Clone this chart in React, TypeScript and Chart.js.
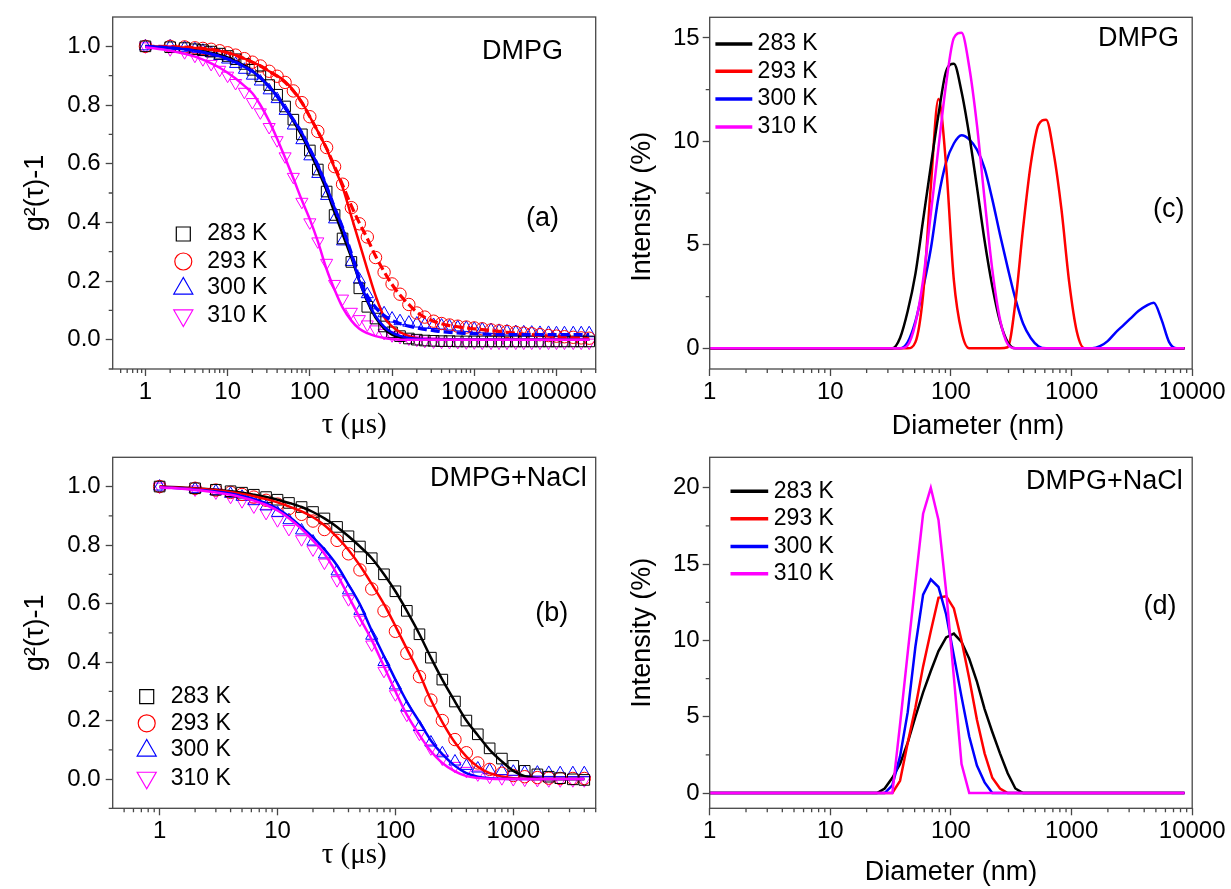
import React, { useEffect, useRef } from 'react';
import { Chart, registerables } from 'chart.js';

Chart.register(...registerables);

const SANS = "'Liberation Sans', Arial, Helvetica, sans-serif";
const SERIF = "'Liberation Serif', 'Times New Roman', serif";
const INK = '#000000';
const FRAME = '#474747';

const TEMPS = ['283 K', '293 K', '300 K', '310 K'];
const COLORS = ['#000000', '#ff0000', '#0000ff', '#ff00ff'];
const SYMBOLS = ['rect', 'circle', 'triangle', 'triangleDown'];

// ---------- panel (a): DMPG correlation functions ----------
const TAU_A = [1, 2, 3, 4, 5, 6.3, 8, 10, 12.5, 16, 20, 25, 32, 40, 50, 63, 80, 100, 125, 160, 200, 250, 320, 400, 500, 630, 800, 1000, 1250, 1600, 2000, 2500, 3200, 4000, 5000, 6300, 8000, 10000, 12500, 16000, 20000, 25000, 32000, 40000, 50000, 63000, 80000, 100000, 125000, 160000, 200000, 250000];
const A_283 = [1.0, 0.997, 0.994, 0.99, 0.987, 0.982, 0.975, 0.967, 0.956, 0.94,
  0.92, 0.898, 0.868, 0.835, 0.795, 0.75, 0.7, 0.645, 0.58, 0.505,
  0.425, 0.345, 0.265, 0.175, 0.112, 0.072, 0.045, 0.025, 0.012, 0.004,
  0.0, -0.003, -0.004, -0.005, -0.005, -0.006, -0.006, -0.006, -0.006, -0.006,
  -0.006, -0.006, -0.006, -0.006, -0.006, -0.006, -0.006, -0.006, -0.006, -0.006,
  -0.006, -0.006];
const A_293 = [1.0, 1.0, 0.998, 0.995, 0.993, 0.99, 0.985, 0.978, 0.97, 0.958,
  0.946, 0.933, 0.915, 0.898, 0.877, 0.848, 0.808, 0.76, 0.71, 0.655,
  0.59, 0.53, 0.45, 0.395, 0.35, 0.28, 0.23, 0.19, 0.155, 0.12,
  0.091, 0.077, 0.063, 0.055, 0.05, 0.046, 0.043, 0.04, 0.037, 0.033,
  0.03, 0.028, 0.025, 0.022, 0.02, 0.017, 0.014, 0.012, 0.01, 0.008,
  0.006, 0.005];
const A_300 = [1.0, 1.0, 0.995, 0.99, 0.985, 0.977, 0.967, 0.955, 0.94, 0.92,
  0.9, 0.88, 0.85, 0.82, 0.78, 0.73, 0.68, 0.625, 0.565, 0.49,
  0.41, 0.335, 0.265, 0.205, 0.155, 0.117, 0.09, 0.072, 0.063, 0.058,
  0.055, 0.052, 0.05, 0.048, 0.045, 0.042, 0.04, 0.037, 0.035, 0.033,
  0.03, 0.028, 0.026, 0.025, 0.024, 0.023, 0.023, 0.022, 0.022, 0.022,
  0.022, 0.022];
const A_310 = [1.0, 0.99, 0.98, 0.968, 0.956, 0.94, 0.92, 0.9, 0.875, 0.845,
  0.81, 0.775, 0.725, 0.68, 0.625, 0.555, 0.47, 0.4, 0.335, 0.262,
  0.19, 0.14, 0.095, 0.07, 0.052, 0.035, 0.023, 0.015, 0.009, 0.004,
  0.0, -0.004, -0.006, -0.007, -0.008, -0.008, -0.009, -0.009, -0.01, -0.01,
  -0.01, -0.01, -0.01, -0.01, -0.01, -0.01, -0.01, -0.01, -0.01, -0.01,
  -0.01, -0.01];
const A_FIT_283 = [1.0, 0.996, 0.992, 0.988, 0.984, 0.978, 0.971, 0.962, 0.95, 0.934,
  0.916, 0.894, 0.864, 0.83, 0.79, 0.745, 0.695, 0.64, 0.58, 0.508,
  0.433, 0.36, 0.28, 0.2, 0.13, 0.075, 0.038, 0.017, 0.007, 0.002,
  0, 0, 0, 0, 0, 0, 0, 0, 0, 0,
  0, 0, 0, 0, 0, 0, 0, 0, 0, 0,
  0, 0];
const A_FIT_293 = [1.0, 0.998, 0.996, 0.994, 0.992, 0.988, 0.984, 0.978, 0.97, 0.958,
  0.946, 0.934, 0.915, 0.9, 0.88, 0.85, 0.81, 0.76, 0.71, 0.65,
  0.585, 0.52, 0.42, 0.33, 0.24, 0.15, 0.078, 0.045, 0.026, 0.012,
  0.005, 0.001, 0, 0, 0, 0, 0, 0, 0, 0,
  0, 0, 0, 0, 0, 0, 0, 0, 0, 0,
  0, 0];
const A_FIT_293_DASH = [1.0, 0.999, 0.997, 0.995, 0.993, 0.99, 0.985, 0.978, 0.97, 0.958,
  0.946, 0.933, 0.915, 0.898, 0.877, 0.848, 0.808, 0.76, 0.71, 0.652,
  0.59, 0.528, 0.456, 0.398, 0.345, 0.285, 0.232, 0.188, 0.152, 0.12,
  0.094, 0.076, 0.063, 0.054, 0.048, 0.044, 0.04, 0.037, 0.034, 0.031,
  0.028, 0.025, 0.022, 0.019, 0.017, 0.014, 0.012, 0.01, 0.008, 0.006,
  0.005, 0.004];
const A_FIT_300 = [1.0, 0.995, 0.99, 0.985, 0.98, 0.974, 0.966, 0.957, 0.946, 0.93,
  0.915, 0.893, 0.862, 0.83, 0.79, 0.75, 0.705, 0.65, 0.595, 0.522,
  0.45, 0.382, 0.29, 0.2, 0.135, 0.08, 0.044, 0.024, 0.013, 0.006,
  0.003, 0.001, 0, 0, 0, 0, 0, 0, 0, 0,
  0, 0, 0, 0, 0, 0, 0, 0, 0, 0,
  0, 0];
const A_FIT_300_DASH = [1.0, 0.995, 0.99, 0.985, 0.98, 0.974, 0.966, 0.957, 0.946, 0.93,
  0.915, 0.893, 0.862, 0.83, 0.79, 0.75, 0.705, 0.65, 0.595, 0.522,
  0.45, 0.382, 0.295, 0.21, 0.15, 0.11, 0.082, 0.065, 0.055, 0.046,
  0.04, 0.035, 0.031, 0.027, 0.025, 0.023, 0.021, 0.02, 0.019, 0.018,
  0.017, 0.017, 0.017, 0.017, 0.017, 0.017, 0.017, 0.017, 0.017, 0.017,
  0.017, 0.017];
const A_FIT_310 = [0.997, 0.985, 0.975, 0.965, 0.955, 0.942, 0.927, 0.91, 0.89, 0.865,
  0.84, 0.8, 0.745, 0.685, 0.62, 0.55, 0.475, 0.41, 0.335, 0.24,
  0.17, 0.11, 0.065, 0.037, 0.022, 0.012, 0.006, 0.002, 0, 0,
  0, 0, 0, 0, 0, 0, 0, 0, 0, 0,
  0, 0, 0, 0, 0, 0, 0, 0, 0, 0,
  0, 0];

// ---------- panel (b): DMPG + NaCl correlation functions ----------
const TAU_B = [1, 2, 3, 4, 5, 6.3, 8, 10, 12.5, 16, 20, 25, 32, 40, 50, 63, 80, 100, 125, 160, 200, 250, 320, 400, 500, 630, 800, 1000, 1250, 1600, 2000, 2500, 3200, 4000];
const B_283 = [1.0, 0.994, 0.989, 0.984, 0.979, 0.972, 0.964, 0.955, 0.944, 0.93,
  0.913, 0.891, 0.862, 0.83, 0.795, 0.755, 0.7, 0.642, 0.575, 0.495,
  0.415, 0.34, 0.265, 0.2, 0.153, 0.105, 0.07, 0.045, 0.028, 0.016,
  0.008, 0.003, -0.001, -0.003];
const B_293 = [1.0, 0.994, 0.988, 0.98, 0.973, 0.964, 0.953, 0.94, 0.925, 0.905,
  0.882, 0.853, 0.816, 0.77, 0.715, 0.65, 0.575, 0.505, 0.43, 0.35,
  0.27, 0.2, 0.135, 0.09, 0.055, 0.033, 0.02, 0.012, 0.008, 0.005,
  0.003, 0.002, 0.002, 0.002];
const B_300 = [1.0, 0.992, 0.984, 0.975, 0.965, 0.95, 0.932, 0.91, 0.885, 0.85,
  0.812, 0.768, 0.71, 0.645, 0.575, 0.49, 0.4, 0.32, 0.245, 0.178,
  0.125, 0.088, 0.06, 0.045, 0.036, 0.03, 0.027, 0.025, 0.023, 0.022,
  0.021, 0.02, 0.02, 0.02];
const B_310 = [1.0, 0.99, 0.98, 0.965, 0.95, 0.932, 0.91, 0.885, 0.855, 0.82,
  0.785, 0.74, 0.68, 0.615, 0.545, 0.46, 0.37, 0.29, 0.22, 0.155,
  0.105, 0.07, 0.045, 0.028, 0.016, 0.008, 0.003, 0.0, -0.002, -0.003,
  -0.004, -0.004, -0.004, -0.004];
const B_FIT_283 = [1.0, 0.994, 0.989, 0.984, 0.979, 0.972, 0.964, 0.955, 0.944, 0.93,
  0.913, 0.891, 0.862, 0.83, 0.795, 0.755, 0.7, 0.642, 0.575, 0.495,
  0.415, 0.34, 0.265, 0.2, 0.15, 0.1, 0.06, 0.028, 0.01, 0.003,
  0, 0, 0, 0];
const B_FIT_293 = [1.0, 0.993, 0.987, 0.981, 0.975, 0.967, 0.957, 0.946, 0.932, 0.915,
  0.895, 0.868, 0.827, 0.783, 0.73, 0.667, 0.598, 0.523, 0.445, 0.36,
  0.27, 0.195, 0.125, 0.077, 0.042, 0.02, 0.009, 0.003, 0.001, 0,
  0, 0, 0, 0];
const B_FIT_300 = [0.998, 0.99, 0.983, 0.976, 0.968, 0.958, 0.943, 0.925, 0.898, 0.862,
  0.826, 0.785, 0.73, 0.665, 0.597, 0.507, 0.42, 0.34, 0.265, 0.195,
  0.132, 0.085, 0.045, 0.02, 0.008, 0.003, 0.001, 0, 0, 0,
  0, 0, 0, 0];
const B_FIT_310 = [0.998, 0.988, 0.98, 0.972, 0.963, 0.952, 0.937, 0.918, 0.892, 0.855,
  0.815, 0.77, 0.7, 0.625, 0.55, 0.475, 0.385, 0.3, 0.22, 0.15,
  0.095, 0.055, 0.026, 0.01, 0.004, 0.001, 0, 0, 0, 0,
  0, 0, 0, 0];

// ---------- panels (c) and (d): size distributions ----------
const SIZES = [0.9649, 1.117, 1.294, 1.499, 1.736, 2.01, 2.328, 2.696, 3.122, 3.615,
  4.187, 4.849, 5.615, 6.503, 7.531, 8.721, 10.1, 11.7, 13.54, 15.69,
  18.17, 21.04, 24.36, 28.21, 32.67, 37.84, 43.82, 50.75, 58.77, 68.06,
  78.82, 91.28, 105.7, 122.4, 141.8, 164.2, 190.1, 220.2, 255.0, 295.3,
  342.0, 396.1, 458.7, 531.2, 615.1, 712.4, 825.0, 955.4, 1106, 1281,
  1484, 1718, 1990, 2305, 2669, 3091, 3580, 4145, 4801, 5560,
  6439, 7456, 8635];
const C_283 = [0, 0, 0, 0, 0, 0, 0, 0, 0, 0,
  0, 0, 0, 0, 0, 0, 0, 0, 0, 0,
  0, 0, 0, 0, 0, 0.5, 1.8, 3.6, 6.2, 8.8,
  11.3, 13.4, 13.75, 12.4, 10.3, 7.8, 5.2, 3.0, 1.3, 0.3,
  0, 0, 0, 0, 0, 0, 0, 0, 0, 0,
  0, 0, 0, 0, 0, 0, 0, 0, 0, 0,
  0, 0, 0];
const C_293 = [0, 0, 0, 0, 0, 0, 0, 0, 0, 0,
  0, 0, 0, 0, 0, 0, 0, 0, 0, 0,
  0, 0, 0, 0, 0, 0, 0, 0.3, 2.6, 7.8,
  12.05, 8.8, 3.3, 0.8, 0, 0, 0, 0, 0, 0.05,
  2.2, 5.8, 8.9, 10.8, 11.05, 9.4, 6.7, 3.2, 0.8, 0,
  0, 0, 0, 0, 0, 0, 0, 0, 0, 0,
  0, 0, 0];
const C_300 = [0, 0, 0, 0, 0, 0, 0, 0, 0, 0,
  0, 0, 0, 0, 0, 0, 0, 0, 0, 0,
  0, 0, 0, 0, 0, 0, 0.3, 1.3, 2.9, 4.8,
  7.3, 9.0, 9.9, 10.3, 10.1, 9.6, 8.7, 7.2, 5.5, 3.9,
  2.4, 1.2, 0.5, 0.1, 0, 0, 0, 0, 0, 0,
  0, 0.1, 0.35, 0.75, 1.1, 1.45, 1.8, 2.05, 2.2, 1.4,
  0.3, 0, 0];
const C_310 = [0, 0, 0, 0, 0, 0, 0, 0, 0, 0,
  0, 0, 0, 0, 0, 0, 0, 0, 0, 0,
  0, 0, 0, 0, 0, 0, 0.15, 1.2, 3.3, 6.5,
  9.7, 12.8, 15.0, 15.25, 13.6, 10.8, 7.2, 3.8, 1.4, 0.2,
  0, 0, 0, 0, 0, 0, 0, 0, 0, 0,
  0, 0, 0, 0, 0, 0, 0, 0, 0, 0,
  0, 0, 0];
const D_283 = [0, 0, 0, 0, 0, 0, 0, 0, 0, 0,
  0, 0, 0, 0, 0, 0, 0, 0, 0, 0,
  0, 0, 0, 0.3, 1.0, 1.9, 3.3, 5.0, 6.6, 8.0,
  9.3, 10.2, 10.45, 9.9, 8.8, 7.3, 5.5, 4.0, 2.6, 1.3,
  0.3, 0, 0, 0, 0, 0, 0, 0, 0, 0,
  0, 0, 0, 0, 0, 0, 0, 0, 0, 0,
  0, 0, 0];
const D_293 = [0, 0, 0, 0, 0, 0, 0, 0, 0, 0,
  0, 0, 0, 0, 0, 0, 0, 0, 0, 0,
  0, 0, 0, 0, 0, 0.8, 3.3, 5.6, 8.3, 10.6,
  12.8, 12.9, 12.1, 10.0, 7.5, 4.8, 2.6, 1.0, 0.3, 0,
  0, 0, 0, 0, 0, 0, 0, 0, 0, 0,
  0, 0, 0, 0, 0, 0, 0, 0, 0, 0,
  0, 0, 0];
const D_300 = [0, 0, 0, 0, 0, 0, 0, 0, 0, 0,
  0, 0, 0, 0, 0, 0, 0, 0, 0, 0,
  0, 0, 0, 0, 0.5, 2.4, 5.3, 9.6, 13.0, 14.0,
  13.5, 11.7, 9.0, 6.3, 3.7, 1.8, 0.7, 0, 0, 0,
  0, 0, 0, 0, 0, 0, 0, 0, 0, 0,
  0, 0, 0, 0, 0, 0, 0, 0, 0, 0,
  0, 0, 0];
const D_310 = [0, 0, 0, 0, 0, 0, 0, 0, 0, 0,
  0, 0, 0, 0, 0, 0, 0, 0, 0, 0,
  0, 0, 0, 0, 0, 4.5, 9.2, 13.8, 18.3, 20.0,
  17.9, 13.2, 7.6, 1.9, 0, 0, 0, 0, 0, 0,
  0, 0, 0, 0, 0, 0, 0, 0, 0, 0,
  0, 0, 0, 0, 0, 0, 0, 0, 0, 0,
  0, 0, 0];

// ---------- tick labels ----------
const TAU_TICKS_A = [1, 10, 100, 1000, 10000, 100000];
const TAU_TICKS_B = [1, 10, 100, 1000];
const SIZE_TICKS = [1, 10, 100, 1000, 10000];
const G_TICKS = [0, 0.2, 0.4, 0.6, 0.8, 1.0];
const G_MINOR = [-0.1, 0.1, 0.3, 0.5, 0.7, 0.9];
const I_TICKS_C = [0, 5, 10, 15];
const I_MINOR_C = [2.5, 7.5, 12.5];
const I_TICKS_D = [0, 5, 10, 15, 20];
const I_MINOR_D = [2.5, 7.5, 12.5, 17.5];

function logMinor(lo: number, hi: number) {
  const out: number[] = [];
  for (let e = -1; e <= 6; e++) {
    for (let m = 2; m <= 9; m++) {
      const v = m * Math.pow(10, e);
      if (v > lo && v < hi) out.push(v);
    }
  }
  return out;
}

const pts = (xs: number[], ys: number[]) => xs.map((x, i) => ({ x, y: ys[i] }));

function marks(xs: number[], ys: number[], k: number, order: number) {
  const s = SYMBOLS[k];
  return {
    label: TEMPS[k],
    data: pts(xs, ys),
    showLine: false,
    order,
    pointStyle: s === 'triangleDown' ? 'triangle' : s,
    pointRotation: s === 'triangleDown' ? 180 : 0,
    pointRadius: s === 'rect' ? 7.5 : s === 'circle' ? 6.2 : 7,
    pointBorderColor: COLORS[k],
    pointBackgroundColor: 'rgba(0,0,0,0)',
    pointBorderWidth: 1,
    borderColor: COLORS[k],
    backgroundColor: 'rgba(0,0,0,0)',
  };
}

function curve(xs: number[], ys: number[], k: number, order: number, dash?: number[], smooth = true) {
  return {
    label: TEMPS[k],
    data: pts(xs, ys),
    showLine: true,
    order,
    pointRadius: 0,
    borderColor: COLORS[k],
    borderWidth: dash ? 3.2 : 2.5,
    borderDash: dash || [],
    fill: false,
    cubicInterpolationMode: smooth ? 'monotone' : 'default',
    tension: 0,
  };
}

function xLog(min: number, max: number, majors: number[], height: number, title?: any) {
  return {
    type: 'logarithmic',
    position: 'bottom',
    min,
    max,
    bounds: 'data',
    afterBuildTicks: (s: any) => { s.ticks = majors.map((v) => ({ value: v })); },
    afterFit: (s: any) => { s.height = height; s.paddingLeft = 0; s.paddingRight = 0; },
    ticks: { autoSkip: false, maxRotation: 0, minRotation: 0, padding: 2, color: INK, font: { family: SANS, size: 24 }, callback: (v: any) => String(v) },
    grid: { display: true, drawOnChartArea: false, drawTicks: true, tickLength: 7, tickColor: FRAME, tickWidth: 1.3 },
    border: { display: false },
    title: title || { display: false },
  };
}

function yLin(min: number, max: number, majors: number[], width: number, digits: number, pad: number, title?: any) {
  return {
    type: 'linear',
    position: 'left',
    min,
    max,
    bounds: 'data',
    afterBuildTicks: (s: any) => { s.ticks = majors.map((v) => ({ value: v })); },
    afterFit: (s: any) => { s.width = width; s.paddingTop = 0; s.paddingBottom = 0; },
    ticks: { autoSkip: false, padding: pad, color: INK, font: { family: SANS, size: 24 }, callback: (v: any) => Number(v).toFixed(digits) },
    grid: { display: true, drawOnChartArea: false, drawTicks: true, tickLength: 7, tickColor: FRAME, tickWidth: 1.3 },
    border: { display: false },
    title: title || { display: false },
  };
}

function decor(d: any) {
  return {
    id: 'decor',
    afterDraw(chart: any) {
      const { ctx, chartArea: a, scales } = chart;
      ctx.save();
      ctx.strokeStyle = FRAME;
      ctx.lineWidth = 1.3;
      ctx.beginPath();
      for (const v of d.minorX) {
        const p = scales.x.getPixelForValue(v);
        if (p < a.left - 0.5 || p > a.right + 0.5) continue;
        ctx.moveTo(p, a.bottom);
        ctx.lineTo(p, a.bottom + 4);
      }
      for (const v of d.minorY) {
        const p = scales.y.getPixelForValue(v);
        ctx.moveTo(a.left - 4, p);
        ctx.lineTo(a.left, p);
      }
      ctx.stroke();
      ctx.strokeRect(a.left, a.top, a.right - a.left, a.bottom - a.top);

      ctx.fillStyle = INK;
      ctx.textBaseline = 'middle';
      for (const t of d.texts) {
        ctx.font = t.font;
        ctx.textAlign = t.align || 'left';
        if (t.rotate) {
          ctx.save();
          ctx.translate(t.x, t.y);
          ctx.rotate(-Math.PI / 2);
          ctx.fillText(t.text, 0, 0);
          ctx.restore();
        } else {
          ctx.fillText(t.text, t.x, t.y);
        }
      }

      const L = d.legend;
      if (L) {
        L.rows.forEach((y: number, k: number) => {
          const c = COLORS[k];
          ctx.strokeStyle = c;
          if (L.kind === 'line') {
            ctx.lineWidth = 3.5;
            ctx.beginPath();
            ctx.moveTo(L.x0, y);
            ctx.lineTo(L.x1, y);
            ctx.stroke();
          } else {
            ctx.lineWidth = 1.2;
            const x = L.x0;
            const s = SYMBOLS[k];
            ctx.beginPath();
            if (s === 'rect') {
              ctx.rect(x - 7, y - 7, 14, 14);
            } else if (s === 'circle') {
              ctx.arc(x, y, 8.5, 0, Math.PI * 2);
            } else {
              const r = 11;
              const dir = s === 'triangle' ? 1 : -1;
              ctx.moveTo(x, y - dir * r * 0.95);
              ctx.lineTo(x - r * 0.866, y + dir * r * 0.55);
              ctx.lineTo(x + r * 0.866, y + dir * r * 0.55);
              ctx.closePath();
            }
            ctx.stroke();
          }
          ctx.fillStyle = INK;
          ctx.font = `23px ${SANS}`;
          ctx.textAlign = 'left';
          ctx.fillText(TEMPS[k], L.tx, y);
        });
      }
      ctx.restore();
    },
  };
}

function baseOptions(pad: any, x: any, y: any) {
  return {
    responsive: false,
    maintainAspectRatio: false,
    animation: false,
    devicePixelRatio: 1,
    events: [],
    layout: { padding: pad },
    plugins: { legend: { display: false }, tooltip: { enabled: false }, title: { display: false } },
    scales: { x, y },
  };
}

const ANN = `27px ${SANS}`;
const gTitle = { display: true, text: 'g²(τ)-1', color: INK, font: { family: SANS, size: 27 }, padding: { top: 19, bottom: 0 } };

function buildA() {
  return {
    type: 'scatter',
    data: {
      datasets: [
        curve(TAU_A, A_FIT_310, 3, 1),
        curve(TAU_A, A_FIT_300, 2, 2),
        curve(TAU_A, A_FIT_300_DASH, 2, 3, [9, 4]),
        curve(TAU_A, A_FIT_293, 1, 4),
        curve(TAU_A, A_FIT_293_DASH, 1, 5, [9, 4]),
        curve(TAU_A, A_FIT_283, 0, 6),
        marks(TAU_A, A_283, 0, 10),
        marks(TAU_A, A_293, 1, 11),
        marks(TAU_A, A_300, 2, 12),
        marks(TAU_A, A_310, 3, 13),
      ],
    },
    options: baseOptions(
      { left: 0, top: 17, right: 24.3, bottom: 0 },
      xLog(0.4, 300000, TAU_TICKS_A, 76, { display: true, text: 'τ (μs)', color: INK, font: { family: SERIF, size: 29 }, padding: { top: 0, bottom: 2.6 } }),
      yLin(-0.1, 1.1, G_TICKS, 112.7, 1, 5, gTitle),
    ),
    plugins: [decor({
      minorX: logMinor(0.4, 300001),
      minorY: G_MINOR,
      texts: [
        { text: 'DMPG', x: 563, y: 51.7, align: 'right', font: ANN },
        { text: '(a)', x: 542.5, y: 218.3, align: 'center', font: ANN },
      ],
      legend: { kind: 'marker', x0: 183.3, tx: 207.3, rows: [234, 261.5, 288, 316] },
    })],
  };
}

function buildB() {
  return {
    type: 'scatter',
    data: {
      datasets: [
        curve(TAU_B, B_FIT_310, 3, 1),
        curve(TAU_B, B_FIT_300, 2, 2),
        curve(TAU_B, B_FIT_293, 1, 3),
        curve(TAU_B, B_FIT_283, 0, 4),
        marks(TAU_B, B_283, 0, 10),
        marks(TAU_B, B_293, 1, 11),
        marks(TAU_B, B_300, 2, 12),
        marks(TAU_B, B_310, 3, 13),
      ],
    },
    options: baseOptions(
      { left: 0, top: 12.3, right: 24.3, bottom: 0 },
      xLog(0.4, 5000, TAU_TICKS_B, 80.7, { display: true, text: 'τ (μs)', color: INK, font: { family: SERIF, size: 29 }, padding: { top: 0, bottom: 16.6 } }),
      yLin(-0.1, 1.1, G_TICKS, 112.7, 1, 5, gTitle),
    ),
    plugins: [decor({
      minorX: logMinor(0.4, 5001),
      minorY: G_MINOR,
      texts: [
        { text: 'DMPG+NaCl', x: 586.7, y: 33.3, align: 'right', font: ANN },
        { text: '(b)', x: 551.7, y: 168.3, align: 'center', font: ANN },
      ],
      legend: { kind: 'marker', x0: 146.7, tx: 170.7, rows: [251.7, 278.3, 305, 333.3] },
    })],
  };
}

function buildC() {
  return {
    type: 'scatter',
    data: {
      datasets: [
        curve(SIZES, C_310, 3, 1),
        curve(SIZES, C_283, 0, 2),
        curve(SIZES, C_293, 1, 3),
        curve(SIZES, C_300, 2, 4),
      ],
    },
    options: baseOptions(
      { left: 0, top: 17.3, right: 38.8, bottom: 0 },
      xLog(1, 10000, SIZE_TICKS, 76),
      yLin(-1, 16, I_TICKS_C, 89.7, 0, 3),
    ),
    plugins: [decor({
      minorX: logMinor(1, 10000),
      minorY: I_MINOR_C,
      texts: [
        { text: 'DMPG', x: 559, y: 38.3, align: 'right', font: ANN },
        { text: '(c)', x: 548.7, y: 210, align: 'center', font: ANN },
        { text: 'Diameter (nm)', x: 358, y: 426.7, align: 'center', font: ANN },
        { text: 'Intensity (%)', x: 23, y: 206.7, align: 'center', font: ANN, rotate: true },
      ],
      legend: { kind: 'line', x0: 95.4, x1: 132.3, tx: 137.6, rows: [44, 71.2, 99.1, 126.9] },
    })],
  };
}

function buildD() {
  return {
    type: 'scatter',
    data: {
      datasets: [
        curve(SIZES, D_310, 3, 1, undefined, false),
        curve(SIZES, D_300, 2, 2, undefined, false),
        curve(SIZES, D_293, 1, 3, undefined, false),
        curve(SIZES, D_283, 0, 4, undefined, false),
      ],
    },
    options: baseOptions(
      { left: 0, top: 12.3, right: 38.8, bottom: 0 },
      xLog(1, 10000, SIZE_TICKS, 80.7, { display: true, text: 'Diameter (nm)', color: INK, font: { family: SANS, size: 27 }, padding: { top: 0, bottom: 0 } }),
      yLin(-1, 22, I_TICKS_D, 89.7, 0, 3, { display: true, text: 'Intensity (%)', color: INK, font: { family: SANS, size: 27 }, padding: { top: 6.8, bottom: 0 } }),
    ),
    plugins: [decor({
      minorX: logMinor(1, 10000),
      minorY: I_MINOR_D,
      texts: [
        { text: 'DMPG+NaCl', x: 562.8, y: 36.7, align: 'right', font: ANN },
        { text: '(d)', x: 540, y: 161.7, align: 'center', font: ANN },
      ],
      legend: { kind: 'line', x0: 110.5, x1: 148.2, tx: 153.8, rows: [46.2, 73.8, 101.4, 128.7] },
    })],
  };
}

function Panel({ left, top, width, height, build }: any) {
  const ref = useRef<HTMLCanvasElement>(null);
  useEffect(() => {
    const chart = new Chart(ref.current as HTMLCanvasElement, build() as any);
    return () => chart.destroy();
  }, [build]);
  return (
    <canvas
      ref={ref}
      width={width}
      height={height}
      style={{ position: 'absolute', left, top, width, height, display: 'block' }}
    />
  );
}

export default function App() {
  return (
    <div style={{ position: 'fixed', left: 0, top: 0, width: 1231, height: 889, background: '#ffffff', overflow: 'hidden' }}>
      <Panel left={0} top={0} width={620} height={445} build={buildA} />
      <Panel left={0} top={445} width={620} height={444} build={buildB} />
      <Panel left={620} top={0} width={611} height={445} build={buildC} />
      <Panel left={620} top={445} width={611} height={444} build={buildD} />
    </div>
  );
}
